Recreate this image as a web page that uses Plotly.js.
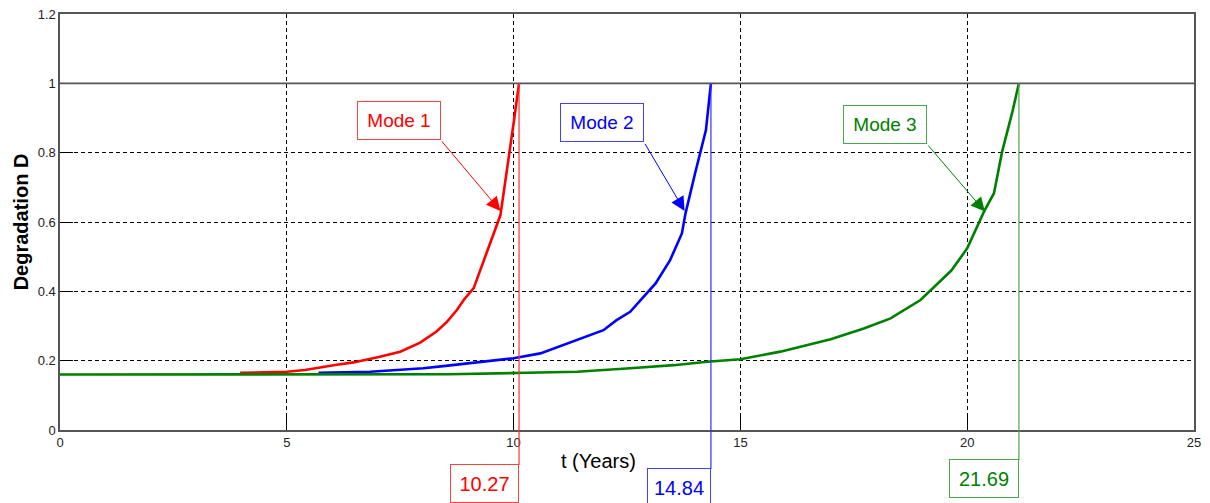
<!DOCTYPE html>
<html>
<head>
<meta charset="utf-8">
<script src="https://cdn.plot.ly/plotly-3.0.1.min.js"></script>
<style>html,body{margin:0;padding:0;background:#fff;}#chart{width:1210px;height:503px;}</style>
</head>
<body>
<div id="chart"></div>
<script>
// Data
const mode1X = [3.97, 4.5, 5.0, 5.4, 5.73, 6.1, 6.47, 7.05, 7.5, 7.94, 8.3, 8.53, 8.75, 8.9, 9.12, 9.41, 9.71, 10.0, 10.12];
const mode1Y = [0.165, 0.166, 0.168, 0.173, 0.181, 0.188, 0.195, 0.211, 0.226, 0.252, 0.284, 0.312, 0.346, 0.375, 0.409, 0.51, 0.62, 0.885, 1.0];

const mode2X = [5.7, 6.3, 6.84, 7.43, 8.01, 8.5, 9.0, 9.5, 10.0, 10.59, 11.1, 11.5, 11.98, 12.27, 12.57, 13.13, 13.45, 13.71, 13.79, 14.0, 14.24, 14.35];
const mode2Y = [0.165, 0.166, 0.168, 0.173, 0.178, 0.185, 0.192, 0.199, 0.207, 0.221, 0.245, 0.265, 0.288, 0.317, 0.341, 0.423, 0.49, 0.567, 0.625, 0.74, 0.865, 1.0];

const mode3X = [0, 2, 4, 6, 8.57, 10.29, 11.4, 12.57, 13.53, 14.27, 15.0, 15.88, 16.99, 17.72, 18.31, 18.97, 19.27, 19.65, 20.0, 20.37, 20.59, 20.77, 21.0, 21.14];
const mode3Y = [0.16, 0.16, 0.16, 0.16, 0.161, 0.165, 0.168, 0.178, 0.187, 0.197, 0.204, 0.226, 0.262, 0.293, 0.322, 0.375, 0.413, 0.46, 0.524, 0.63, 0.683, 0.803, 0.92, 1.0];

const modeNames = ["Mode 1", "Mode 2", "Mode 3"];
const failureLabels = ["10.27", "14.84", "21.69"];
const failureLineX = [10.12, 14.35, 21.14];
const arrowTipX = [9.71, 13.77, 20.39];
const arrowTipY = [0.632, 0.632, 0.63];
const labelBoxX = [7.47, 11.94, 18.18];
const labelBoxY = [0.894, 0.887, 0.881];

const xTicks = [0, 5, 10, 15, 20, 25];
const yTicks = [0, 0.2, 0.4, 0.6, 0.8, 1, 1.2];

const curveColors = ["#ff0000", "#0000ff", "#008000"];
const lineColors = ["#ff3030", "#3030ff", "#4aa84a"];
const boxColors = ["#ff4040", "#4040ff", "#4aa84a"];
const textColors = ["#ff0000", "#0000ff", "#008000"];

const xs = [mode1X, mode2X, mode3X];
const ys = [mode1Y, mode2Y, mode3Y];

const traces = xs.map((x, i) => ({
  x: x, y: ys[i], type: "scatter", mode: "lines", name: modeNames[i],
  line: {color: curveColors[i], width: 2.6}, hoverinfo: "skip"
}));

const font = "Arial, 'Liberation Sans', sans-serif";

const yTopPaper = 1 / 1.2;
const bottomEnds = [-0.084, -0.094, -0.072];   // bottoms of vertical marker lines (paper)
const failBoxY = [-0.1286, -0.140, -0.1166];   // label box centers (paper)
const failBoxW = [67, 62, 68];
const failBoxH = [37, 38, 37];
const arrowAx = [-60.7, -41.3, -58.6];
const arrowAy = [-72, -70, -68.4];

const shapes = [
  {type: "line", xref: "paper", yref: "y", x0: 0, x1: 1, y0: 1, y1: 1,
   line: {color: "#555", width: 1.6}, layer: "above"}
];
failureLineX.forEach((fx, i) => {
  shapes.push({type: "line", xref: "x", yref: "paper", x0: fx, x1: fx,
    y0: yTopPaper, y1: bottomEnds[i], line: {color: lineColors[i], width: 1.2}});
});

const annotations = [];
modeNames.forEach((name, i) => {
  annotations.push({
    x: labelBoxX[i], y: labelBoxY[i], xref: "x", yref: "y",
    text: name, showarrow: false,
    font: {family: font, size: 19, color: textColors[i]},
    bgcolor: "#fff", bordercolor: boxColors[i], borderwidth: 1,
    width: 80, height: 35
  });
  annotations.push({
    x: arrowTipX[i], y: arrowTipY[i], xref: "x", yref: "y",
    text: " ", showarrow: true, ax: arrowAx[i], ay: arrowAy[i],
    axref: "pixel", ayref: "pixel",
    arrowcolor: curveColors[i], arrowwidth: 1, arrowhead: 2, arrowsize: 2.8,
    font: {size: 2}
  });
  annotations.push({
    x: failureLineX[i], y: failBoxY[i], xref: "x", yref: "paper",
    xanchor: "right", yanchor: "middle", text: failureLabels[i], showarrow: false,
    font: {family: font, size: 20, color: textColors[i]},
    bgcolor: "#fff", bordercolor: boxColors[i], borderwidth: 1,
    width: failBoxW[i] - 2, height: failBoxH[i] - 2
  });
});

// x-axis title placed as in the reference
annotations.push({
  x: 0.475, y: -0.074, xref: "paper", yref: "paper", xanchor: "center", yanchor: "middle",
  text: "t (Years)", showarrow: false, font: {family: font, size: 20, color: "#000"}
});

const layout = {
  width: 1210, height: 503,
  margin: {l: 60, r: 16, t: 14, b: 73, pad: 0},
  paper_bgcolor: "#fff", plot_bgcolor: "#fff",
  showlegend: false,
  xaxis: {
    range: [0, 25], tickvals: xTicks, ticktext: xTicks.map(String),
    showgrid: true, gridcolor: "#000", gridwidth: 1, griddash: "4px,3px",
    zeroline: false, showline: true, linecolor: "#555", linewidth: 1.6, mirror: true,
    ticks: "inside", ticklen: 13, tickcolor: "#000", tickwidth: 1,
    tickfont: {family: font, size: 13, color: "#222"},
    automargin: false
  },
  yaxis: {
    range: [0, 1.2], tickvals: yTicks, ticktext: yTicks.map(String),
    showgrid: true, gridcolor: "#000", gridwidth: 1, griddash: "4px,3px",
    zeroline: false, showline: true, linecolor: "#555", linewidth: 1.6, mirror: true,
    ticks: "inside", ticklen: 13, tickcolor: "#000", tickwidth: 1,
    tickfont: {family: font, size: 13, color: "#222"},
    title: {text: "<b>Degradation D</b>", font: {family: font, size: 20, color: "#000"}, standoff: 4},
    automargin: false
  },
  shapes: shapes,
  annotations: annotations
};

Plotly.newPlot("chart", traces, layout, {displayModeBar: false, staticPlot: true});
</script>
</body>
</html>
